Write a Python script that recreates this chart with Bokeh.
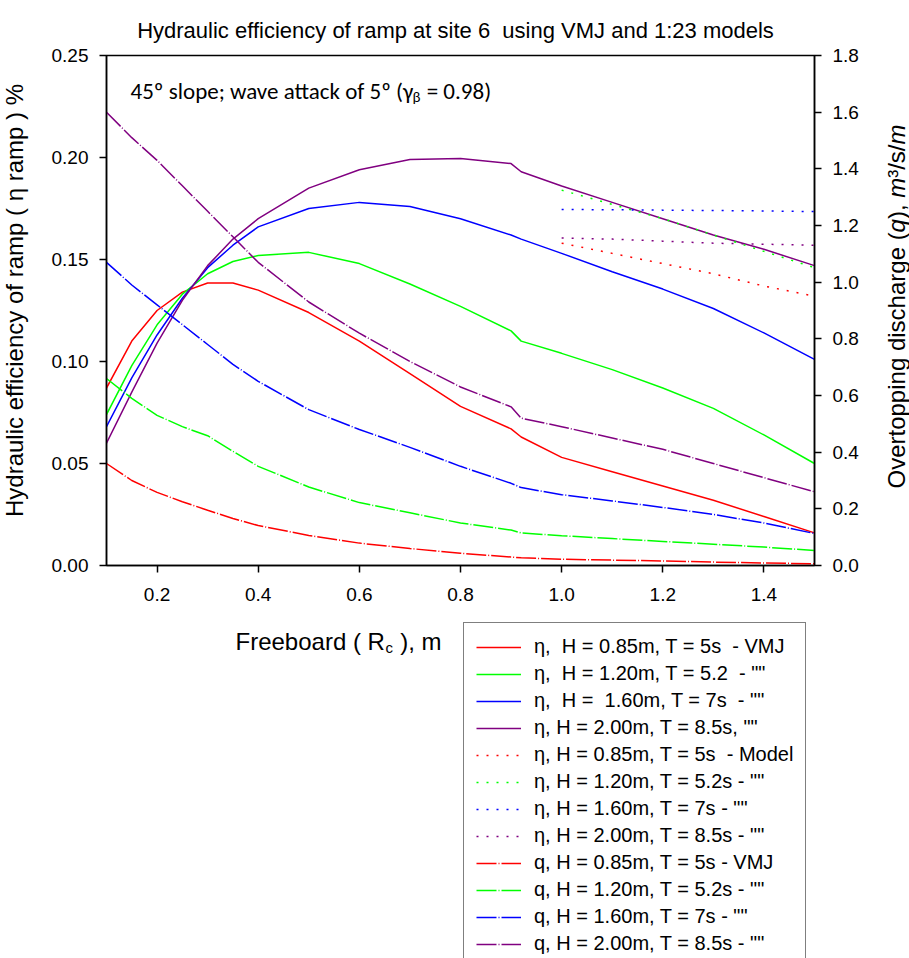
import math
from bokeh.plotting import figure
from bokeh.layouts import column, row
from bokeh.models import Range1d, LinearAxis, FixedTicker, Legend, LegendItem, Label
from bokeh.embed import file_html
from bokeh.resources import INLINE

# Freeboard values (m) for the VMJ curves and the 1:23 model curves
freeboard = [0.1, 0.15, 0.2, 0.25, 0.3, 0.35, 0.4, 0.5, 0.6, 0.7, 0.8, 0.9, 0.92,
             1.0, 1.1, 1.2, 1.3, 1.4, 1.5]
freeboard_model = [1.0, 1.1, 1.2, 1.3, 1.4, 1.5]

# Hydraulic efficiency of the ramp, VMJ
eta_vmj_085 = [0.087, 0.110, 0.125, 0.134, 0.1385, 0.1385, 0.135, 0.124, 0.110, 0.094,
               0.078, 0.067, 0.063, 0.053, 0.046, 0.039, 0.032, 0.024, 0.016]
eta_vmj_120 = [0.074, 0.098, 0.118, 0.133, 0.143, 0.149, 0.152, 0.1535, 0.148, 0.138,
               0.127, 0.115, 0.110, 0.104, 0.096, 0.087, 0.077, 0.064, 0.050]
eta_vmj_160 = [0.068, 0.092, 0.113, 0.131, 0.146, 0.157, 0.166, 0.175, 0.178, 0.176,
               0.170, 0.162, 0.160, 0.153, 0.144, 0.1355, 0.126, 0.114, 0.101]
eta_vmj_200 = [0.060, 0.085, 0.109, 0.130, 0.147, 0.160, 0.170, 0.185, 0.194, 0.199,
               0.1995, 0.197, 0.193, 0.186, 0.178, 0.170, 0.162, 0.155, 0.147]

# Hydraulic efficiency of the ramp, 1:23 model
eta_model_085 = [0.158, 0.153, 0.148, 0.143, 0.137, 0.132]
eta_model_120 = [0.184, 0.177, 0.170, 0.162, 0.154, 0.146]
eta_model_160 = [0.1745, 0.1744, 0.1742, 0.174, 0.1738, 0.1735]
eta_model_200 = [0.1605, 0.160, 0.159, 0.158, 0.1575, 0.157]

# Overtopping discharge q (m3/s/m), VMJ
q_vmj_085 = [0.36, 0.30, 0.258, 0.225, 0.195, 0.166, 0.141, 0.106, 0.079, 0.060,
             0.043, 0.030, 0.027, 0.022, 0.019, 0.016, 0.012, 0.009, 0.006]
q_vmj_120 = [0.66, 0.59, 0.53, 0.49, 0.458, 0.403, 0.35, 0.277, 0.222, 0.186,
             0.150, 0.125, 0.115, 0.105, 0.095, 0.085, 0.075, 0.065, 0.053]
q_vmj_160 = [1.07, 0.99, 0.92, 0.85, 0.78, 0.71, 0.65, 0.55, 0.48, 0.417,
             0.35, 0.29, 0.275, 0.25, 0.228, 0.205, 0.18, 0.15, 0.113]
q_vmj_200 = [1.60, 1.51, 1.43, 1.34, 1.25, 1.16, 1.07, 0.93, 0.82, 0.72,
             0.63, 0.56, 0.52, 0.49, 0.45, 0.41, 0.36, 0.31, 0.26]

x_ticks = [0.2, 0.4, 0.6, 0.8, 1.0, 1.2, 1.4]
x_tick_labels = ["0.2", "0.4", "0.6", "0.8", "1.0", "1.2", "1.4"]
eta_ticks = [0.0, 0.05, 0.10, 0.15, 0.20, 0.25]
eta_tick_labels = ["0.00", "0.05", "0.10", "0.15", "0.20", "0.25"]
q_ticks = [0.0, 0.2, 0.4, 0.6, 0.8, 1.0, 1.2, 1.4, 1.6, 1.8]
q_tick_labels = ["0.0", "0.2", "0.4", "0.6", "0.8", "1.0", "1.2", "1.4", "1.6", "1.8"]

legend_labels = [
    "\u03b7,  H = 0.85m, T = 5s  - VMJ",
    "\u03b7,  H = 1.20m, T = 5.2  - \"\"",
    "\u03b7,  H =  1.60m, T = 7s  - \"\"",
    "\u03b7, H = 2.00m, T = 8.5s, \"\"",
    "\u03b7, H = 0.85m, T = 5s  - Model",
    "\u03b7, H = 1.20m, T = 5.2s - \"\"",
    "\u03b7, H = 1.60m, T = 7s - \"\"",
    "\u03b7, H = 2.00m, T = 8.5s - \"\"",
    "q, H = 0.85m, T = 5s - VMJ",
    "q, H = 1.20m, T = 5.2s - \"\"",
    "q, H = 1.60m, T = 7s - \"\"",
    "q, H = 2.00m, T = 8.5s - \"\"",
]
colors = ["#ff0000", "#00ff00", "#0000ff", "#800080"]

FONT = "Liberation Sans"
NOTE_FONT = "Carlito, Lato"
W = 909
TITLE_H = 45                  # title strip (canvas y 0 .. 45)
MAIN_H = 575                  # chart row (canvas y 45 .. 620)
LOWER_H = 958 - TITLE_H - MAIN_H
LEFT_W, RIGHT_W = 36, 28      # side strips holding the rotated axis titles
MAIN_W = W - LEFT_W - RIGHT_W
FRAME_L, FRAME_R = 106, 814   # frame edges in canvas pixels
FRAME_T_IN_MAIN, FRAME_B_IN_MAIN = 10, 520

SOLID = dict(line_width=1.5)
DOTTED = dict(line_width=1.5, line_dash="2 8")
DASHED = dict(line_width=1.5, line_dash="20 2 1 2")


def blank_figure(width, height):
    f = figure(width=width, height=height, output_backend="svg", toolbar_location=None,
               x_range=Range1d(0, width), y_range=Range1d(0, height),
               x_axis_type=None, y_axis_type=None, min_border=0, frame_align=False)
    f.outline_line_color = None
    f.background_fill_color = "white"
    f.border_fill_color = "white"
    return f


def add_text(f, text, x, y, size, align="left", font=FONT, style="normal", angle=0.0,
             baseline="alphabetic"):
    f.add_layout(Label(x=x, y=y, x_units="screen", y_units="screen", text=text,
                       text_font=font, text_font_size=size, text_font_style=style,
                       text_align=align, text_baseline=baseline, angle=angle,
                       text_color="black"))


# ---- Title strip ----
title_fig = blank_figure(W, TITLE_H)
add_text(title_fig, "Hydraulic efficiency of ramp at site 6\u00a0\u00a0using VMJ and 1:23 models",
         455, TITLE_H - 30, "22px", align="center")

# ---- Main chart ----
p = figure(width=MAIN_W, height=MAIN_H, output_backend="svg", toolbar_location=None,
           x_range=Range1d(0.1, 1.5), y_range=Range1d(0.0, 0.25), frame_align=False,
           min_border_left=FRAME_L - LEFT_W, min_border_right=W - RIGHT_W - FRAME_R,
           min_border_top=FRAME_T_IN_MAIN, min_border_bottom=MAIN_H - FRAME_B_IN_MAIN)
p.extra_y_ranges = {"q": Range1d(0.0, 1.8)}
p.xgrid.visible = False
p.ygrid.visible = False
p.outline_line_color = "black"
p.outline_line_width = 1.5
p.background_fill_color = "white"
p.border_fill_color = "white"

right_axis = LinearAxis(y_range_name="q")
p.add_layout(right_axis, "right")

p.xaxis.ticker = FixedTicker(ticks=x_ticks)
p.xaxis.major_label_overrides = dict(zip(x_ticks, x_tick_labels))
p.yaxis[0].ticker = FixedTicker(ticks=eta_ticks)
p.yaxis[0].major_label_overrides = dict(zip(eta_ticks, eta_tick_labels))
right_axis.ticker = FixedTicker(ticks=q_ticks)
right_axis.major_label_overrides = dict(zip(q_ticks, q_tick_labels))

for ax in [p.xaxis[0], p.yaxis[0], right_axis]:
    ax.axis_line_color = "black"
    ax.axis_line_width = 1.5
    ax.major_tick_line_color = "black"
    ax.major_tick_line_width = 1.5
    ax.major_tick_in = 0
    ax.major_tick_out = 7
    ax.minor_tick_line_color = None
    ax.major_label_text_font = FONT
    ax.major_label_text_font_size = "19px"
    ax.major_label_text_color = "black"

p.xaxis.major_label_standoff = 15
p.yaxis[0].major_label_standoff = 11
right_axis.major_label_standoff = 11

for c, ys in zip(colors, [eta_vmj_085, eta_vmj_120, eta_vmj_160, eta_vmj_200]):
    p.line(freeboard, ys, line_color=c, **SOLID)
for c, ys in zip(colors, [eta_model_085, eta_model_120, eta_model_160, eta_model_200]):
    p.line(freeboard_model, ys, line_color=c, **DOTTED)
for c, ys in zip(colors, [q_vmj_085, q_vmj_120, q_vmj_160, q_vmj_200]):
    p.line(freeboard, ys, line_color=c, y_range_name="q", **DASHED)


# Annotation inside the plot (given in canvas pixels, converted to frame offsets)
def frame_text(text, cx, cy, size):
    add_text(p, text, cx - FRAME_L, FRAME_B_IN_MAIN - (cy - TITLE_H), size, font=NOTE_FONT)


frame_text("45\u00ba slope; wave attack of 5\u00ba (\u03b3", 130, 90, "23px")
frame_text("\u03b2", 412, 96, "15px")
frame_text("\u00a0= 0.98)", 421, 90, "23px")

# ---- Side strips: rotated axis titles ----
UP = math.pi / 2
left_fig = blank_figure(LEFT_W, MAIN_H)
add_text(left_fig, "Hydraulic efficiency of ramp ( \u03b7 ramp ) %",
         14, MAIN_H - (300 - TITLE_H), "24px", align="center", angle=UP, baseline="middle")

right_fig = blank_figure(RIGHT_W, MAIN_H)
# pieces of the right-hand title, laid out upwards from its lower end (24px Arial widths)
q_title_parts = [("Overtopping discharge (", "normal", 256.1),
                 ("q", "italic", 13.3),
                 ("),\u00a0", "normal", 21.3),
                 ("m", "italic", 20.0),
                 ("\u00b3/s/", "normal", 33.3),
                 ("m", "italic", 20.0)]
y_pos = MAIN_H - (488 - TITLE_H)
for txt, style, width in q_title_parts:
    add_text(right_fig, txt, 15, y_pos, "24px", style=style, angle=UP, baseline="middle")
    y_pos += width

# ---- Lower strip: x-axis title and legend ----
lower = blank_figure(W, LOWER_H)


def lower_text(text, cx, cy, size):
    add_text(lower, text, cx, 958 - cy, size)


lower_text("Freeboard ( R", 235, 641, "24px")
lower_text("c", 385, 647, "15px")
lower_text("\u00a0), m", 393, 641, "24px")

# Legend keys: empty (NaN) lines carrying the same styles as the plotted series
nan = [float("nan")]
proxies = []
for c in colors:
    proxies.append(lower.line(nan, nan, line_color=c, **SOLID))
for c in colors:
    proxies.append(lower.line(nan, nan, line_color=c, **DOTTED))
for c in colors:
    proxies.append(lower.line(nan, nan, line_color=c, **DASHED))

legend = Legend(items=[LegendItem(label=lab, renderers=[r])
                       for lab, r in zip(legend_labels, proxies)],
                location=(463, -10))
legend.label_text_font = FONT
legend.label_text_font_size = "20px"
legend.label_text_color = "black"
legend.glyph_width = 45
legend.glyph_height = 20
legend.label_height = 20
legend.spacing = 4
legend.padding = 12
legend.margin = 0
legend.label_standoff = 13
legend.border_line_color = "black"
legend.border_line_width = 1
legend.background_fill_color = "white"
legend.background_fill_alpha = 1.0
lower.add_layout(legend)

layout = column(title_fig, row(left_fig, p, right_fig, spacing=0), lower, spacing=0)
open("out.html", "w").write(file_html(layout, INLINE))
